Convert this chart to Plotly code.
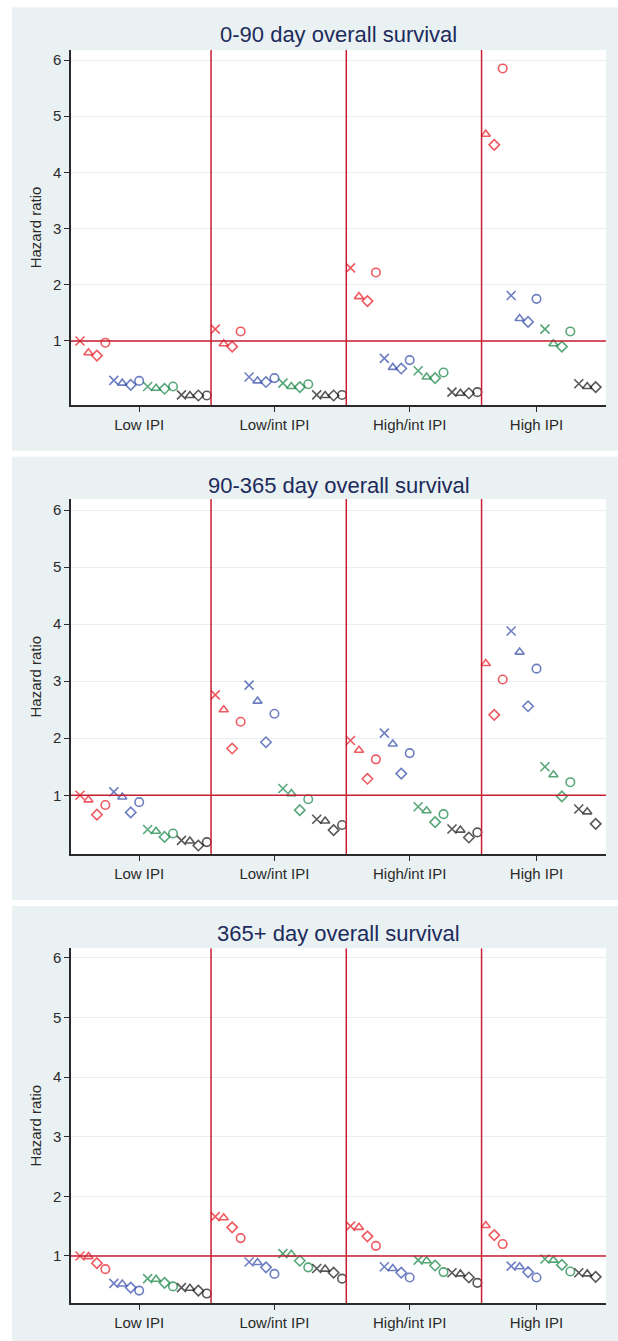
import plotly.graph_objects as go

# ---------------- data ----------------
groups = ["Low IPI", "Low/int IPI", "High/int IPI", "High IPI"]
marker_kinds = ["x", "triangle", "diamond", "circle"]
series = ["red", "blue", "green", "black"]
titles = ["0-90 day overall survival", "90-365 day overall survival", "365+ day overall survival"]
ytick_vals = [1, 2, 3, 4, 5, 6]
ref_value = 1

# each list: 4 groups x 4 markers (x, triangle, diamond, circle); None = not shown
hr_0_90_red   = [1.00, 0.79, 0.74, 0.97, 1.21, 0.95, 0.90, 1.17, 2.30, 1.79, 1.71, 2.22, None, 4.68, 4.49, 5.85]
hr_0_90_blue  = [0.30, 0.25, 0.22, 0.29, 0.36, 0.29, 0.27, 0.34, 0.69, 0.53, 0.51, 0.66, 1.81, 1.40, 1.34, 1.75]
hr_0_90_green = [0.19, 0.16, 0.15, 0.19, 0.25, 0.19, 0.18, 0.23, 0.47, 0.36, 0.34, 0.44, 1.21, 0.95, 0.90, 1.17]
hr_0_90_black = [0.04, 0.03, 0.03, 0.03, 0.04, 0.03, 0.03, 0.04, 0.09, 0.07, 0.07, 0.09, 0.24, 0.19, 0.18, None]

hr_90_365_red   = [1.00, 0.92, 0.66, 0.83, 2.76, 2.50, 1.82, 2.29, 1.96, 1.79, 1.29, 1.63, None, 3.31, 2.41, 3.03]
hr_90_365_blue  = [1.06, 0.97, 0.70, 0.88, 2.93, 2.65, 1.93, 2.43, 2.09, 1.90, 1.38, 1.74, 3.88, 3.51, 2.56, 3.22]
hr_90_365_green = [0.40, 0.37, 0.27, 0.33, 1.12, 1.03, 0.74, 0.93, 0.80, 0.73, 0.53, 0.67, 1.50, 1.36, 0.98, 1.23]
hr_90_365_black = [0.21, 0.20, 0.12, 0.18, 0.58, 0.55, 0.39, 0.48, 0.41, 0.39, 0.26, 0.35, 0.76, 0.71, 0.50, None]

hr_365_red   = [1.00, 0.99, 0.88, 0.78, 1.66, 1.64, 1.48, 1.30, 1.50, 1.48, 1.33, 1.17, None, 1.51, 1.35, 1.20]
hr_365_blue  = [0.54, 0.53, 0.47, 0.42, 0.90, 0.89, 0.81, 0.70, 0.82, 0.79, 0.72, 0.64, 0.83, 0.82, 0.73, 0.64]
hr_365_green = [0.62, 0.61, 0.55, 0.49, 1.04, 1.03, 0.92, 0.81, 0.93, 0.92, 0.84, 0.73, 0.95, 0.93, 0.85, 0.74]
hr_365_black = [0.47, 0.46, 0.42, 0.37, 0.79, 0.78, 0.72, 0.62, 0.72, 0.70, 0.64, 0.55, 0.72, 0.70, 0.65, None]

panels = [
    {"red": hr_0_90_red, "blue": hr_0_90_blue, "green": hr_0_90_green, "black": hr_0_90_black},
    {"red": hr_90_365_red, "blue": hr_90_365_blue, "green": hr_90_365_green, "black": hr_90_365_black},
    {"red": hr_365_red, "blue": hr_365_blue, "green": hr_365_green, "black": hr_365_black},
]

# ---------------- styling ----------------
W, H = 618, 1341
FONT = "Liberation Sans, Arial, sans-serif"
BG = "#EAF1F2"
REFLINE = "#C81E32"
AXIS = "#2A2A2A"
TITLE_C = "#1C2B5C"
colors = {"red": "#E8141E", "blue": "#2F47A8", "green": "#0F8140", "black": "#111111"}
symbols = {"x": "x-thin-open", "triangle": "triangle-up-open", "diamond": "diamond-open", "circle": "circle-open"}
sizes = {"x": 9, "triangle": 8, "diamond": 8, "circle": 8.5}

plot_px = [(50, 405), (499, 854.3), (948.3, 1303)]
bg_px = [(7.3, 450.7), (456.7, 900), (906, 1341)]
title_px = [35, 485, 933]
yranges = [(-0.139, 6.178), (-0.034, 6.193), (0.212, 6.158)]
x_left, x_right = 71, 606
xrange_ = (-0.065, 63.22)

fig = go.Figure()
bg_shapes = []
white_shapes = []
line_shapes = []
annotations = []

for i, pdata in enumerate(panels):
    xa = "x" if i == 0 else f"x{i+1}"
    ya = "y" if i == 0 else f"y{i+1}"
    # sequential positions of the points that are present
    pos = 0
    pts = {c: {"x": [], "y": [], "sym": [], "size": []} for c in series}
    ticks = []
    bounds = []
    for g in range(len(groups)):
        for c in series:
            for k, mk in enumerate(marker_kinds):
                v = pdata[c][g * 4 + k]
                if v is None:
                    continue
                pos += 1
                pts[c]["x"].append(pos)
                pts[c]["y"].append(v)
                pts[c]["sym"].append(symbols[mk])
                pts[c]["size"].append(sizes[mk])
                if c == "blue" and mk == "circle":
                    ticks.append(pos)
        bounds.append(pos + 0.5)
    t0, t1 = plot_px[i]
    # panel background and white plot region
    b0, b1 = bg_px[i]
    bg_shapes.append(dict(type="rect", xref="paper", yref="paper", x0=12 / W, x1=1,
                          y0=1 - b1 / H, y1=1 - b0 / H, fillcolor=BG, line=dict(width=0), layer="below"))
    white_shapes.append(dict(type="rect", xref="paper", yref="paper", x0=x_left / W, x1=x_right / W,
                             y0=1 - t1 / H, y1=1 - t0 / H, fillcolor="white", line=dict(width=0),
                             layer="below"))
    # reference lines
    for b in bounds[:-1]:
        line_shapes.append(dict(type="line", xref=xa, yref=ya, x0=b, x1=b,
                                y0=yranges[i][0], y1=yranges[i][1],
                                line=dict(color=REFLINE, width=1.5)))
    line_shapes.append(dict(type="line", xref=xa, yref=ya, x0=xrange_[0], x1=xrange_[1],
                            y0=ref_value, y1=ref_value, line=dict(color=REFLINE, width=1.5)))
    for c in series:
        fig.add_trace(go.Scatter(
            x=pts[c]["x"], y=pts[c]["y"], mode="markers", xaxis=xa, yaxis=ya,
            showlegend=False, hoverinfo="skip", cliponaxis=False,
            marker=dict(symbol=pts[c]["sym"], size=pts[c]["size"], color=colors[c],
                        line=dict(color=colors[c], width=1.6)),
        ))
    annotations.append(dict(text=titles[i], xref="paper", yref="paper",
                            x=(x_left + x_right) / 2 / W, y=1 - title_px[i] / H,
                            xanchor="center", yanchor="middle", showarrow=False,
                            font=dict(family=FONT, size=22, color=TITLE_C)))
    xkey = "xaxis" if i == 0 else f"xaxis{i+1}"
    ykey = "yaxis" if i == 0 else f"yaxis{i+1}"
    fig.update_layout(**{
        xkey: dict(domain=[x_left / W, x_right / W], anchor=ya, range=list(xrange_),
                   showgrid=False, zeroline=False, showline=True, linecolor=AXIS, linewidth=1.5,
                   ticks="outside", ticklen=5, tickcolor=AXIS, tickwidth=1,
                   tickvals=ticks, ticktext=groups,
                   tickfont=dict(family=FONT, size=15, color=AXIS)),
        ykey: dict(domain=[1 - t1 / H, 1 - t0 / H], anchor=xa, range=list(yranges[i]),
                   showgrid=True, gridcolor="#E6EEEF", gridwidth=1, zeroline=False,
                   showline=True, linecolor=AXIS, linewidth=1.5,
                   ticks="outside", ticklen=5, tickcolor=AXIS, tickwidth=1,
                   tickvals=ytick_vals, tickfont=dict(family=FONT, size=15, color=AXIS),
                   title=dict(text="Hazard ratio", standoff=8,
                              font=dict(family=FONT, size=15, color=AXIS))),
    })

fig.update_layout(
    width=W, height=H, margin=dict(l=0, r=0, t=0, b=0),
    paper_bgcolor="white", plot_bgcolor="rgba(0,0,0,0)",
    shapes=bg_shapes + white_shapes + line_shapes, annotations=annotations, showlegend=False,
    font=dict(family=FONT),
)

fig.write_html("out.html", config={"displayModeBar": False},
               post_script="document.body.style.margin='0';document.body.style.overflow='hidden';")
